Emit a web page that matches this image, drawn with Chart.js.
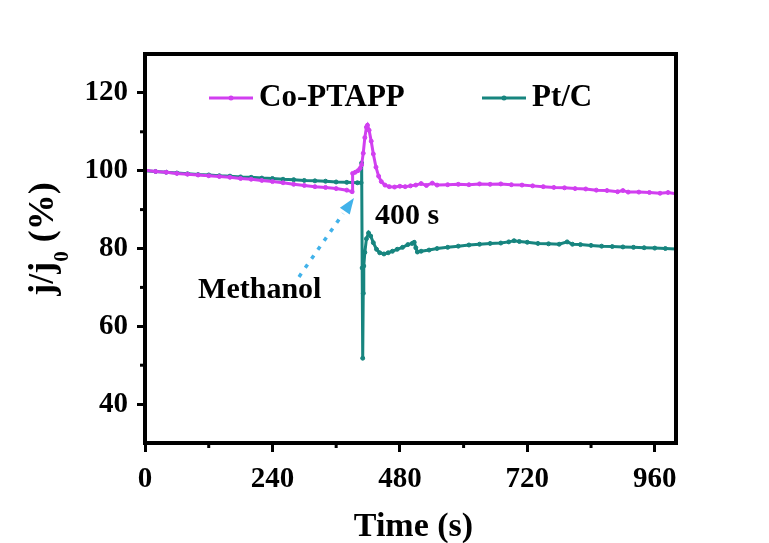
<!DOCTYPE html>
<html lang="fr">
<head>
<meta charset="utf-8">
<title>Stabilité - ajout de méthanol</title>
<script src="https://cdn.jsdelivr.net/npm/chart.js@4.4.1/dist/chart.umd.min.js"></script>
<style>
    html, body { margin: 0; padding: 0; background: #fff; }
    #chart { display: block; }
</style>
</head>
<body>
<canvas id="chart" width="769" height="543"></canvas>
<script>
// ==== DONNÉES ====

// Co-PTAPP : temps (s) et j/j0 (%)
const coTime = [0, 20, 40, 60, 80, 100, 120, 140, 160, 180,
    200, 220, 240, 260, 280, 300, 320, 340, 360, 380,
    390, 391, 396, 401, 405, 408, 411, 414, 417, 419,
    422, 426, 430, 435, 440, 445, 452, 460, 470, 480,
    490, 500, 510, 520, 530, 541, 550, 570, 590, 610,
    630, 650, 670, 690, 710, 730, 750, 770, 790, 810,
    830, 850, 870, 890, 900, 910, 930, 950, 970, 985, 1000];
const coValues = [100.1, 99.8, 99.6, 99.3, 99.1, 98.9, 98.7, 98.5, 98.3, 98.0,
    97.8, 97.5, 97.2, 96.9, 96.5, 96.2, 95.9, 95.7, 95.4, 95.0,
    94.6, 99.3, 99.6, 100.0, 100.6, 101.5, 104.5, 108.5, 111.2, 111.7,
    110.4, 107.6, 104.3, 100.9, 98.6, 97.2, 96.3, 95.9, 95.8, 96.0,
    95.9, 96.1, 96.3, 96.7, 96.2, 96.8, 96.3, 96.4, 96.5, 96.4,
    96.6, 96.5, 96.6, 96.4, 96.3, 96.1, 95.9, 95.7, 95.6, 95.4,
    95.3, 95.0, 94.9, 94.6, 94.9, 94.5, 94.5, 94.4, 94.2, 94.4, 94.1];

// Pt/C : temps (s) et j/j0 (%)
const ptTime = [0, 20, 40, 60, 80, 100, 120, 140, 160, 180,
    200, 220, 240, 260, 280, 300, 320, 340, 360, 380,
    400, 407, 408, 409, 410, 411, 412, 414, 417, 421,
    425, 430, 436, 442, 450, 458, 466, 475, 485, 495,
    503, 507, 510, 513, 520, 535, 550, 570, 590, 610,
    630, 650, 670, 685, 695, 705, 720, 740, 760, 780,
    795, 805, 820, 840, 860, 880, 900, 920, 940, 960, 980, 1000];
const ptValues = [100.0, 99.8, 99.6, 99.4, 99.2, 99.0, 98.9, 98.7, 98.6, 98.4,
    98.3, 98.1, 98.0, 97.8, 97.7, 97.5, 97.4, 97.3, 97.1, 97.0,
    96.9, 96.9, 102.0, 75.0, 51.8, 68.5, 75.5, 79.0, 82.5, 84.0,
    83.2, 81.5, 79.8, 78.9, 78.6, 78.9, 79.3, 79.8, 80.3, 81.0,
    81.3, 81.6, 80.2, 79.1, 79.3, 79.6, 80.0, 80.3, 80.6, 80.9,
    81.1, 81.3, 81.4, 81.7, 82.0, 81.8, 81.6, 81.3, 81.2, 81.1,
    81.7, 81.1, 81.0, 80.8, 80.6, 80.5, 80.4, 80.3, 80.2, 80.1, 80.0, 79.9];

// Graduations
const xMajorTicks = [0, 240, 480, 720, 960];
const xMinorTicks = [120, 360, 600, 840];
const yMajorTicks = [40, 60, 80, 100, 120];
const yMinorTicks = [50, 70, 90, 110];

const seriesLabels = ['Co-PTAPP', 'Pt/C'];
const seriesColors = ['#d13ff0', '#17857f'];

// Annotations (coordonnées en unités des axes)
const methanolLabel = { text: 'Methanol', x: 100, y: 67.3 };
const injectLabel = { text: '400 s', x: 433, y: 86.3 };
const arrowFrom = { x: 290, y: 72.7 };
const arrowTo = { x: 393.5, y: 93 };

const SERIF = '"Liberation Serif", "Times New Roman", serif';

// ==== PLUGIN : cadre, petites graduations, légende, titres ====

const decorPlugin = {
    id: 'decor',
    afterDatasetsDraw(chart) {
        const ctx = chart.ctx;
        const area = chart.chartArea;
        const xs = chart.scales.x;
        const ys = chart.scales.y;

        ctx.save();

        // Petites graduations
        ctx.strokeStyle = '#000';
        ctx.lineWidth = 3;
        yMinorTicks.forEach(v => {
            const py = ys.getPixelForValue(v);
            ctx.beginPath();
            ctx.moveTo(area.left - 5, py);
            ctx.lineTo(area.left, py);
            ctx.stroke();
        });
        xMinorTicks.forEach(v => {
            const px = xs.getPixelForValue(v);
            ctx.beginPath();
            ctx.moveTo(px, area.bottom);
            ctx.lineTo(px, area.bottom + 5);
            ctx.stroke();
        });

        // Cadre
        ctx.lineWidth = 4;
        ctx.strokeRect(area.left, area.top, area.right - area.left, area.bottom - area.top);

        // Légende à l'intérieur du graphe
        const legendPos = [{ x: 209, y: 98 }, { x: 482, y: 98 }];
        chart.data.datasets.forEach((ds, i) => {
            const p = legendPos[i];
            ctx.strokeStyle = ds.borderColor;
            ctx.fillStyle = ds.borderColor;
            ctx.lineWidth = 3;
            ctx.beginPath();
            ctx.moveTo(p.x, p.y);
            ctx.lineTo(p.x + 44, p.y);
            ctx.stroke();
            ctx.beginPath();
            ctx.arc(p.x + 22, p.y, 2.5, 0, Math.PI * 2);
            ctx.fill();
            ctx.fillStyle = '#000';
            ctx.font = 'bold 31px ' + SERIF;
            ctx.textAlign = 'left';
            ctx.textBaseline = 'middle';
            ctx.fillText(ds.label, p.x + 50, p.y);
        });

        // Flèche pointillée "Methanol"
        const x0 = xs.getPixelForValue(arrowFrom.x), y0 = ys.getPixelForValue(arrowFrom.y);
        const x1 = xs.getPixelForValue(arrowTo.x), y1 = ys.getPixelForValue(arrowTo.y);
        const len = Math.hypot(x1 - x0, y1 - y0);
        const ux = (x1 - x0) / len, uy = (y1 - y0) / len;
        const head = 16, half = 6;
        ctx.strokeStyle = '#41b2ea';
        ctx.fillStyle = '#41b2ea';
        ctx.lineWidth = 3.5;
        ctx.setLineDash([4, 7]);
        ctx.beginPath();
        ctx.moveTo(x0, y0);
        ctx.lineTo(x1 - ux * (head + 3), y1 - uy * (head + 3));
        ctx.stroke();
        ctx.setLineDash([]);
        const bx = x1 - ux * head, by = y1 - uy * head;
        ctx.beginPath();
        ctx.moveTo(x1, y1);
        ctx.lineTo(bx - uy * half, by + ux * half);
        ctx.lineTo(bx + uy * half, by - ux * half);
        ctx.closePath();
        ctx.fill();

        // Textes d'annotation
        ctx.fillStyle = '#000';
        ctx.font = 'bold 30px ' + SERIF;
        ctx.textAlign = 'left';
        ctx.textBaseline = 'alphabetic';
        [methanolLabel, injectLabel].forEach(a => {
            ctx.fillText(a.text, xs.getPixelForValue(a.x), ys.getPixelForValue(a.y));
        });

        // Titre de l'axe X
        ctx.font = 'bold 34px ' + SERIF;
        ctx.textAlign = 'center';
        ctx.fillText('Time (s)', (area.left + area.right) / 2 + 3, 536);

        // Titre de l'axe Y avec indice
        ctx.translate(53, 239);
        ctx.rotate(-Math.PI / 2);
        const bigFont = 'bold 36px ' + SERIF;
        const subFont = 'bold 21px ' + SERIF;
        ctx.font = bigFont;
        const w1 = ctx.measureText('j/j').width;
        const w3 = ctx.measureText(' (%)').width;
        ctx.font = subFont;
        const w2 = ctx.measureText('0').width;
        let cx = -(w1 + w2 + w3) / 2;
        ctx.textAlign = 'left';
        ctx.font = bigFont;
        ctx.fillText('j/j', cx, 0);
        cx += w1;
        ctx.font = subFont;
        ctx.fillText('0', cx, 15);
        cx += w2;
        ctx.font = bigFont;
        ctx.fillText(' (%)', cx, 0);

        ctx.restore();
    }
};

// ==== GRAPHIQUE ====

function toPoints(times, values) {
    return times.map((t, i) => ({ x: t, y: values[i] }));
}

function makeDataset(label, color, times, values) {
    return {
        label: label,
        data: toPoints(times, values),
        borderColor: color,
        backgroundColor: color,
        borderWidth: 3,
        pointRadius: 2,
        pointBorderWidth: 1,
        pointBackgroundColor: color,
        pointHoverRadius: 0,
        tension: 0
    };
}

const tickFont = { family: SERIF, size: 29, weight: 'bold' };

new Chart(document.getElementById('chart'), {
    type: 'line',
    data: {
        datasets: [
            makeDataset(seriesLabels[0], seriesColors[0], coTime, coValues),
            makeDataset(seriesLabels[1], seriesColors[1], ptTime, ptValues)
        ]
    },
    options: {
        responsive: false,
        animation: false,
        layout: { padding: { top: 54, right: 93, left: 0, bottom: 0 } },
        plugins: {
            legend: { display: false },
            tooltip: { enabled: false }
        },
        scales: {
            x: {
                type: 'linear',
                min: 0,
                max: 1000,
                afterBuildTicks: s => { s.ticks = xMajorTicks.map(v => ({ value: v })); },
                afterFit: s => { s.height = 100; },
                grid: { drawOnChartArea: false, drawTicks: true, tickLength: 9, tickWidth: 3, tickColor: '#000' },
                border: { display: false },
                ticks: { color: '#000', font: tickFont, padding: 10, maxRotation: 0 }
            },
            y: {
                type: 'linear',
                min: 30,
                max: 130,
                afterBuildTicks: s => { s.ticks = yMajorTicks.map(v => ({ value: v })); },
                afterFit: s => { s.width = 145; },
                grid: { drawOnChartArea: false, drawTicks: true, tickLength: 8, tickWidth: 3, tickColor: '#000' },
                border: { display: false },
                ticks: { color: '#000', font: tickFont, padding: 9 }
            }
        }
    },
    plugins: [decorPlugin]
});
</script>
</body>
</html>
